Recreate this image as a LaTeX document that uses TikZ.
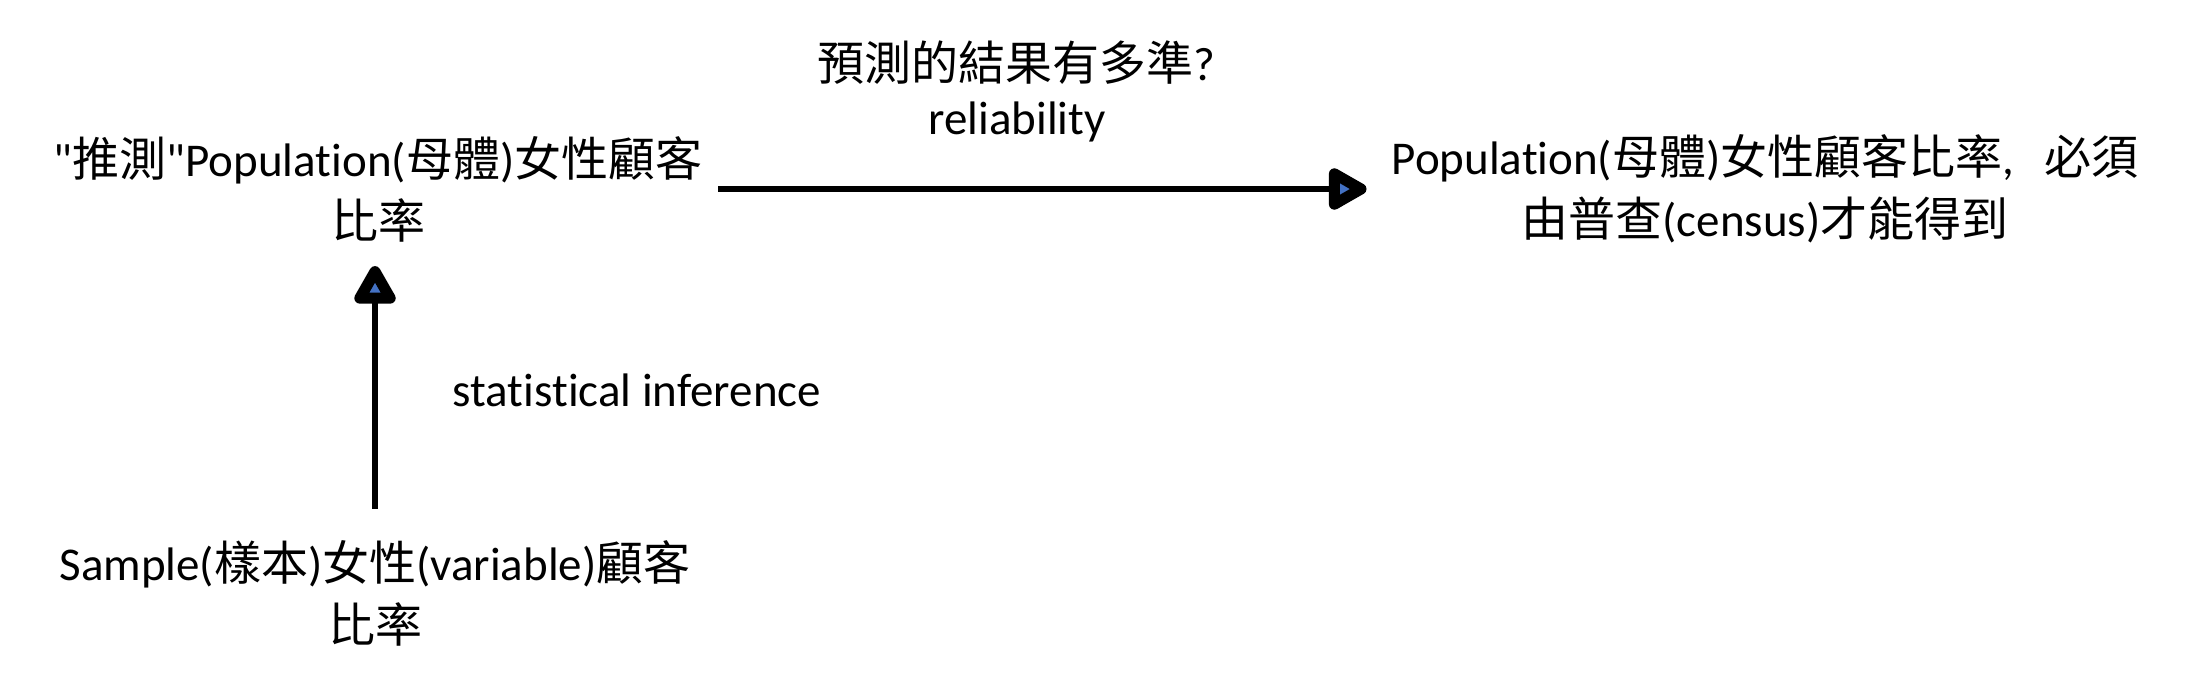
\documentclass[tikz,border=0pt]{standalone}
\usepackage{fontspec}
\setmainfont{Carlito}[Ligatures={TeXOff,CommonOff}]
\newfontfamily\cjk{Noto Sans CJK TC}
\newcommand{\zh}[1]{{\cjk #1}}
\usetikzlibrary{arrows.meta}
\definecolor{officeblue}{RGB}{68,114,196}
\begin{document}
\begin{tikzpicture}
				[x=1pt,y=-1pt,every node/.style={inner sep=0pt,
				align=center,
				font=\fontsize{47}{62}\selectfont}]
				\useasboundingbox (0,0) rectangle (2194,693);
				\tikzset{flow/.style={line width=6pt,line join=round,
				-{Triangle[length=44pt,width=46pt,line width=11pt,round,fill=officeblue]}}}

				\node (guess) at (378,189) {"\zh{推測}"Population(\zh{母體})\zh{女性顧客}\\\zh{比率}};
				\node (census) at (1765,189) {Population(\zh{母體})\zh{女性顧客比率},\hspace{30pt}\zh{必須}\\\zh{由普查}(census)\zh{才能得到}};
				\node (sample) at (375,593) {Sample(\zh{樣本})\zh{女性}(variable)\zh{顧客}\\\zh{比率}};

				\node (ask) at (1016,63) {\zh{預測的結果有多準}?}; %above the arrow
				\node (rel) at (1017,122) {reliability};
				\node (infer) at (637,390) {statistical inference}; %beside the arrow

				\draw[flow,shorten <=16pt,shorten >=25pt] (guess.east) -- (census.west);
				\draw[flow,shorten <=31pt,shorten >=24pt] (sample.north) -- (sample.north |- guess.south);
			\end{tikzpicture}
\end{document}
